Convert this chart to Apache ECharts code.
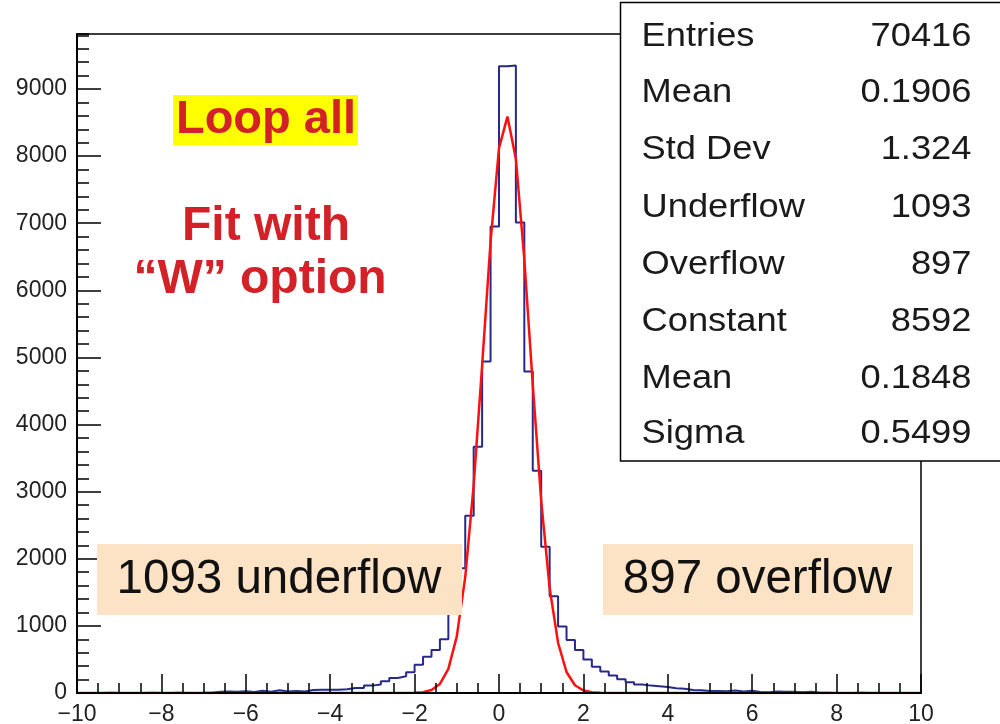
<!DOCTYPE html>
<html>
<head>
<meta charset="utf-8">
<script src="https://cdn.jsdelivr.net/npm/echarts@6/dist/echarts.min.js"></script>
<style>
html,body{margin:0;padding:0;background:#fff;}
#chart{width:1000px;height:724px;}
</style>
</head>
<body>
<div id="chart"></div>
<script>
// ---- data ----
const xMin = -10, xMax = 10, binWidth = 0.2;
// histogram bin contents, bins of 0.2 from -10 to 10 (100 bins)
const binCounts = [
  0, 1, 0, 2, 0, 1, 0, 0, 2, 1,          // -10.0 .. -8.2
  0, 3, 1, 0, 2, 5, 20, 22, 18, 25,      // -8.0 .. -6.2
  15, 32, 18, 40, 22, 30, 22, 45, 48, 50,// -6.0 .. -4.2
  50, 55, 75, 75, 110, 125, 175, 225, 250, 310, // -4.0 .. -2.2
  420, 540, 640, 800, 1250, 1860, 2640, 3670, 4940, 6950, // -2.0 .. -0.2
  9340, 9350, 7010, 4790, 3310, 2180, 1440, 990, 790, 640, // 0.0 .. 1.8
  500, 390, 320, 260, 205, 160, 125, 110, 100, 90,        // 2.0 .. 3.8
  70, 62, 45, 40, 30, 28, 25, 38, 22, 32,                 // 4.0 .. 5.8
  15, 12, 22, 18, 20, 10, 18, 4, 2, 0,                    // 6.0 .. 7.8
  1, 0, 2, 0, 1, 0, 0, 1, 0, 0                            // 8.0 .. 9.8
];
// fitted gaussian curve, sampled every 0.2 from -10 to 10 (101 points)
const fitStep = 0.2;
const fitValues = [
  0,0,0,0,0,0,0,0,0,0, 0,0,0,0,0,0,0,0,0,0,
  0,0,0,0,0,0,0,0,0,0, 0,0,0,0,0,0,0,0,0,0,
  3, 13, 44, 135, 360, 843, 1728, 3102, 4879, 6725,
  8120, 8589, 7959, 6461, 4596, 2864, 1564, 748, 313, 115,
  37, 10, 3, 0,0,0,0,0,0,0,
  0,0,0,0,0,0,0,0,0,0, 0,0,0,0,0,0,0,0,0,0,
  0,0,0,0,0,0,0,0,0,0, 0
];
const yMax = 9820;
const statsLabels = ['Entries','Mean','Std Dev','Underflow','Overflow','Constant','Mean','Sigma'];
const statsValues = ['70416','0.1906','1.324','1093','897','8592','0.1848','0.5499'];

// ---- build series data ----
const histData = [[xMin, 0]];
binCounts.forEach((c, i) => {
  const lo = +(xMin + i * binWidth).toFixed(4);
  const hi = +(xMin + (i + 1) * binWidth).toFixed(4);
  histData.push([lo, c]);
  histData.push([hi, c]);
});
histData.push([xMax, 0]);
const fitData = fitValues.map((v, k) => [+(xMin + k * fitStep).toFixed(4), v]);

const FONT = 'Liberation Sans, Arial, Helvetica, sans-serif';
const chart = echarts.init(document.getElementById('chart'), null, {renderer: 'canvas'});

function txt(x, y, text, size, weight, color, align, sx) {
  return {
    type: 'text', x: x, y: y, z: 100, scaleX: sx || 1,
    style: {
      text: text, fill: color,
      fontSize: size, fontWeight: weight, fontFamily: FONT,
      align: align, textAlign: align,
      verticalAlign: 'middle', textVerticalAlign: 'middle'
    }
  };
}

const graphics = [
  {type:'rect', z: 90, shape:{x:173, y:95, width:185, height:50}, style:{fill:'#ffff00'}},
  txt(266, 120, 'Loop all', 47, 'bold', '#d42027', 'center'),
  txt(266, 227, 'Fit with', 48, 'bold', '#d42027', 'center'),
  txt(260, 280, '\u201CW\u201D option', 48, 'bold', '#d42027', 'center'),
  {type:'rect', z: 90, shape:{x:97, y:544, width:365, height:71}, style:{fill:'#fce3c6'}},
  txt(279, 580, '1093 underflow', 47.5, 'normal', '#111', 'center'),
  {type:'rect', z: 90, shape:{x:603, y:544, width:310, height:71}, style:{fill:'#fce3c6'}},
  txt(757.5, 580, '897 overflow', 47.5, 'normal', '#111', 'center'),
  {type:'rect', z: 90, shape:{x:620.5, y:2.5, width:400, height:458.5},
   style:{fill:'#ffffff', stroke:'#000', lineWidth:1.5}}
];
const rowY = [37, 92.5, 150, 207.5, 264.5, 321.5, 378.5, 434];
statsLabels.forEach((l, i) => {
  graphics.push(txt(641.5, rowY[i], l, 33, 'normal', '#1a1a1a', 'left', 1.1));
  graphics.push(txt(971.5, rowY[i], statsValues[i], 33, 'normal', '#1a1a1a', 'right', 1.1));
});

const option = {
  animation: false,
  backgroundColor: '#ffffff',
  grid: {left: 77, right: 79, top: 34, bottom: 31, show: true,
         borderColor: '#000', borderWidth: 1.5, backgroundColor: 'transparent',
         containLabel: false, outerBoundsMode: 'none'},
  xAxis: [{
    type: 'value', min: xMin, max: xMax, interval: 2, z: 5,
    axisLine: {show: true, onZero: false, lineStyle: {color: '#000', width: 2}},
    axisTick: {show: true, inside: true, length: 19, lineStyle: {color: '#000', width: 1.5}},
    minorTick: {show: true, splitNumber: 4, length: 10, lineStyle: {color: '#000', width: 1.5}},
    splitLine: {show: false},
    axisLabel: {fontSize: 23, color: '#222', margin: 10, fontFamily: FONT,
      formatter: v => v < 0 ? '\u2212' + Math.abs(v) : String(v)}
  }],
  yAxis: [{
    type: 'value', min: 0, max: yMax, interval: 1000, position: 'left', z: 5,
    axisLine: {show: true, onZero: false, lineStyle: {color: '#000', width: 2}},
    axisTick: {show: true, inside: true, length: 24, lineStyle: {color: '#000', width: 1.5}},
    splitLine: {show: false},
    axisLabel: {fontSize: 23, color: '#222', margin: 10, fontFamily: FONT, showMaxLabel: false,
      formatter: v => String(v)}
  }, {
    type: 'value', min: 0, max: yMax, interval: 200, position: 'left', offset: 0, z: 5,
    axisLine: {show: false, onZero: false},
    axisTick: {show: true, inside: true, length: 12, lineStyle: {color: '#000', width: 1.5}},
    splitLine: {show: false},
    axisLabel: {show: false}
  }],
  series: [{
    type: 'line', name: 'hist', data: histData, xAxisIndex: 0, yAxisIndex: 0,
    showSymbol: false, symbol: 'none', z: 3,
    lineStyle: {color: '#28288a', width: 2}
  }, {
    type: 'line', name: 'fit', data: fitData, xAxisIndex: 0, yAxisIndex: 0,
    showSymbol: false, symbol: 'none', smooth: false, z: 4,
    lineStyle: {color: '#ff1010', width: 2.5}
  }],
  graphic: graphics
};
chart.setOption(option);
</script>
</body>
</html>
